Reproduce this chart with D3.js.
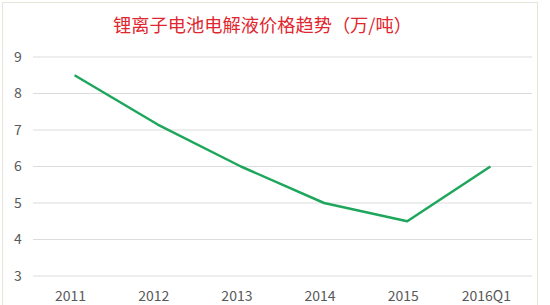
<!DOCTYPE html>
<html>
<head>
<meta charset="utf-8">
<script src="https://cdn.jsdelivr.net/npm/d3@7"></script>
<style>
body { margin: 0; background: #fff; }
svg { display: block; font-family: "Noto Sans CJK SC", "Liberation Sans", sans-serif; }
</style>
</head>
<body>
<script>
var years = ["2011", "2012", "2013", "2014", "2015", "2016Q1"];
var prices = [8.5, 7.15, 6.0, 5.0, 4.5, 6.0];
var yTicks = [3, 4, 5, 6, 7, 8, 9];
var title = "锂离子电池电解液价格趋势（万/吨）";

var W = 550, H = 305;
var margin = {top: 57, right: 18, bottom: 29, left: 33};
var width = W - margin.left - margin.right,
    height = H - margin.top - margin.bottom;

var svg = d3.select("body").append("svg")
    .attr("width", W)
    .attr("height", H);

// outer frame
svg.append("rect")
    .attr("x", 2.5).attr("y", 2.5)
    .attr("width", 535).attr("height", 310)
    .attr("fill", "none")
    .attr("stroke", "#e6e6d8");

svg.append("text")
    .attr("x", 113)
    .attr("y", 32)
    .attr("fill", "#e0262e")
    .attr("textLength", 299)
    .attr("lengthAdjust", "spacingAndGlyphs")
    .style("font-size", "18px")
    .text(title);

var g = svg.append("g")
    .attr("transform", "translate(" + margin.left + "," + margin.top + ")");

var x = d3.scaleBand().domain(years).range([0, width]);
var y = d3.scaleLinear().domain([3, 9]).range([height, 0]);

// grid lines
g.selectAll(".grid")
    .data(yTicks)
    .enter().append("line")
    .attr("x1", 0).attr("x2", width)
    .attr("y1", d => y(d)).attr("y2", d => y(d))
    .attr("stroke", "#dcdcdc")
    .attr("stroke-width", 1);

// y labels
g.selectAll(".ylab")
    .data(yTicks)
    .enter().append("text")
    .attr("x", -15)
    .attr("y", d => y(d))
    .attr("dy", "0.35em")
    .attr("text-anchor", "middle")
    .attr("fill", "#595959")
    .style("font-size", "14px")
    .text(d => d);

// x labels
g.selectAll(".xlab")
    .data(years)
    .enter().append("text")
    .attr("x", d => x(d) + x.bandwidth() / 2 - 4)
    .attr("y", height + 25)
    .attr("text-anchor", "middle")
    .attr("fill", "#595959")
    .style("font-size", "14px")
    .text(d => d);

var line = d3.line()
    .x((d, i) => x(years[i]) + x.bandwidth() / 2)
    .y(d => y(d));

g.append("path")
    .datum(prices)
    .attr("fill", "none")
    .attr("stroke", "#1ea65c")
    .attr("stroke-width", 2.5)
    .attr("stroke-linejoin", "round")
    .attr("d", line);
</script>
</body>
</html>
